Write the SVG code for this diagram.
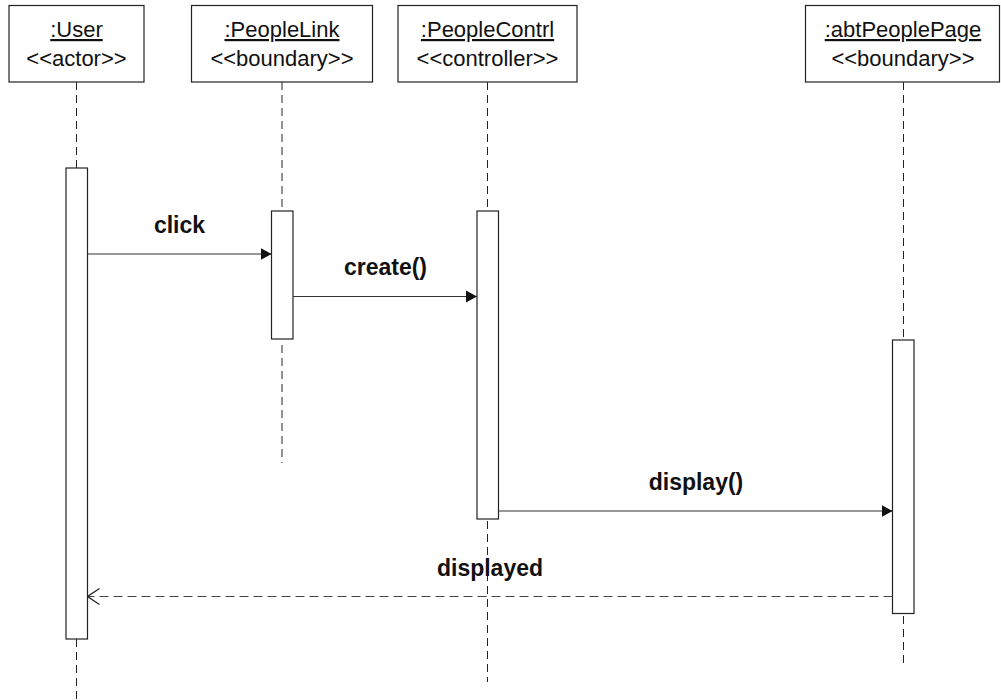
<svg xmlns="http://www.w3.org/2000/svg" width="1001" height="700" viewBox="0 0 1001 700">
  <defs>
    <style>
      .obj { fill: #ffffff; stroke: #222; stroke-width: 1.2; }
      .bar { fill: #ffffff; stroke: #222; stroke-width: 1.2; }
      .life { stroke: #222; stroke-width: 1; stroke-dasharray: 8 5; fill: none; }
      .name { font-family: "Liberation Sans", Arial, sans-serif; font-size: 22px; fill: #111; text-anchor: middle; text-decoration: underline; }
      .stereo { font-family: "Liberation Sans", Arial, sans-serif; font-size: 22px; fill: #111; text-anchor: middle; }
      .msg { stroke: #333; stroke-width: 1.2; fill: none; }
      .ret { stroke: #444; stroke-width: 1.2; fill: none; stroke-dasharray: 9 5; }
      .label { font-family: "Liberation Sans", Arial, sans-serif; font-size: 23px; font-weight: bold; fill: #111; text-anchor: middle; }
    </style>
    <marker id="filled" markerWidth="12" markerHeight="14" refX="11" refY="7" orient="auto" markerUnits="userSpaceOnUse">
      <path d="M0,1 L11,7 L0,13 Z" fill="#111"/>
    </marker>
    <marker id="open" markerWidth="14" markerHeight="18" refX="13" refY="9" orient="auto" markerUnits="userSpaceOnUse">
      <path d="M1,1 L13,9 L1,17" fill="none" stroke="#222" stroke-width="1.2"/>
    </marker>
  </defs>

  <rect width="1001" height="700" fill="#ffffff"/>

  <!-- object heads, lifelines and activation bars -->
  <g id="user">
    <rect class="obj" x="9" y="5.5" width="135" height="76.5"/>
    <text class="name" x="76.5" y="37">:User</text>
    <text class="stereo" x="76.5" y="66">&lt;&lt;actor&gt;&gt;</text>
    <line class="life" x1="76.5" y1="82" x2="76.5" y2="168"/>
    <rect class="bar" x="66" y="168" width="21.5" height="471"/>
    <line class="life" x1="76.5" y1="639" x2="76.5" y2="700"/>
  </g>

  <g id="peoplelink">
    <rect class="obj" x="191.5" y="5.5" width="181" height="76.5"/>
    <text class="name" x="282" y="37">:PeopleLink</text>
    <text class="stereo" x="282" y="66">&lt;&lt;boundary&gt;&gt;</text>
    <line class="life" x1="282" y1="82" x2="282" y2="211"/>
    <rect class="bar" x="271.5" y="211" width="21.5" height="128"/>
    <line class="life" x1="282" y1="345" x2="282" y2="463"/>
  </g>

  <g id="peoplecontrl">
    <rect class="obj" x="398" y="5.5" width="179" height="76.5"/>
    <text class="name" x="487.5" y="37">:PeopleContrl</text>
    <text class="stereo" x="487.5" y="66">&lt;&lt;controller&gt;&gt;</text>
    <line class="life" x1="487.5" y1="82" x2="487.5" y2="211"/>
    <rect class="bar" x="477" y="211" width="21.5" height="308"/>
    <line class="life" x1="487.5" y1="521" x2="487.5" y2="682"/>
  </g>

  <g id="abtpeoplepage">
    <rect class="obj" x="805.5" y="5.5" width="194" height="76.5"/>
    <text class="name" x="903" y="37">:abtPeoplePage</text>
    <text class="stereo" x="903" y="66">&lt;&lt;boundary&gt;&gt;</text>
    <line class="life" x1="903.5" y1="82" x2="903.5" y2="340"/>
    <rect class="bar" x="892.5" y="340" width="21.5" height="273.5"/>
    <line class="life" x1="903.5" y1="616" x2="903.5" y2="665"/>
  </g>

  <!-- messages -->
  <g id="connectors">
    <line class="msg" x1="87.5" y1="254" x2="271.5" y2="254" marker-end="url(#filled)"/>
    <text class="label" x="179.5" y="233">click</text>

    <line class="msg" x1="293" y1="296.5" x2="477" y2="296.5" marker-end="url(#filled)"/>
    <text class="label" x="385.5" y="275">create()</text>

    <line class="msg" x1="498.5" y1="511" x2="892.5" y2="511" marker-end="url(#filled)"/>
    <text class="label" x="696" y="490">display()</text>

    <line class="ret" x1="892.5" y1="596.5" x2="87.5" y2="596.5" marker-end="url(#open)"/>
    <text class="label" x="490" y="576">displayed</text>
  </g>
</svg>
